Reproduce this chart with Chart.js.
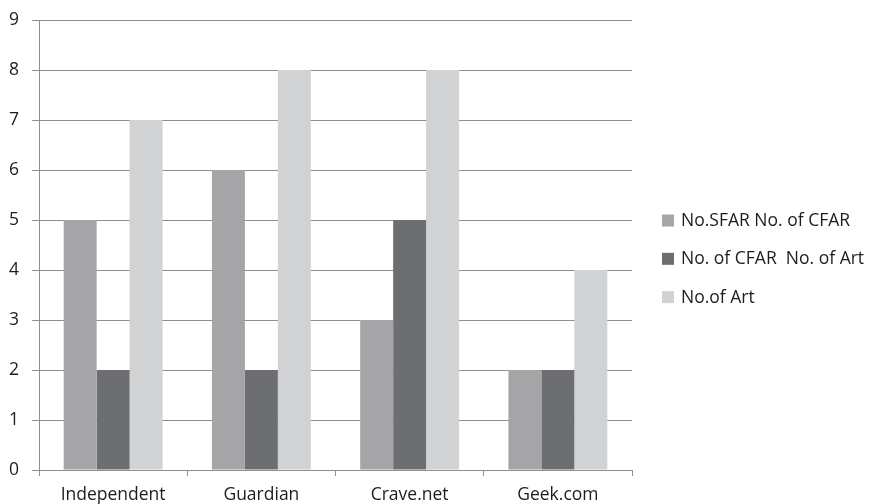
<!DOCTYPE html>
<html>
<head>
<meta charset="utf-8">
<script src="https://cdn.jsdelivr.net/npm/chart.js@4"></script>
<style>
html,body{margin:0;padding:0;background:#fff;}
#wrap{width:875px;height:504px;position:relative;}
</style>
</head>
<body>
<div id="wrap"><canvas id="c" width="875" height="504"></canvas></div>
<script>
const categories = ["Independent", "Guardian", "Crave.net", "Geek.com"];
const seriesNames = ["No.SFAR No. of CFAR", "No. of CFAR  No. of Art", "No.of Art"];
const sfar = [5, 6, 3, 2];
const cfar = [2, 2, 5, 2];
const art = [7, 8, 8, 4];
const yTicks = [0, 1, 2, 3, 4, 5, 6, 7, 8, 9];

const colors = ["#a5a5a7", "#6d6e71", "#d1d2d4"];
const FONT = "'Open Sans', sans-serif";
const FSIZE = 17.5;
const TEXT = '#1d1d1d';

const sideLegend = {
  id: 'sideLegend',
  afterDraw(chart) {
    const ctx = chart.ctx;
    const ca = chart.chartArea;
    const x0 = ca.right + 30;
    const startY = 220.5, step = 38.3;
    ctx.save();
    ctx.font = FSIZE + "px " + FONT;
    ctx.textBaseline = 'middle';
    ctx.textAlign = 'left';
    chart.data.datasets.forEach((ds, i) => {
      const cy = startY + i * step;
      ctx.fillStyle = ds.backgroundColor;
      ctx.fillRect(x0, cy - 6, 12, 12);
      ctx.fillStyle = TEXT;
      ctx.fillText(ds.label, x0 + 19, cy + 0.5);
    });
    ctx.restore();
  }
};

new Chart(document.getElementById('c'), {
  type: 'bar',
  data: {
    labels: categories,
    datasets: [sfar, cfar, art].map((d, i) => ({
      label: seriesNames[i],
      data: d,
      backgroundColor: colors[i],
      borderWidth: 0,
      categoryPercentage: 0.667,
      barPercentage: 1.0
    }))
  },
  options: {
    responsive: false,
    animation: false,
    devicePixelRatio: 1,
    layout: { padding: { top: 20, right: 243, bottom: 0, left: 9 } },
    plugins: {
      legend: { display: false },
      tooltip: { enabled: false }
    },
    scales: {
      x: {
        offset: true,
        afterFit: (s) => { s.height = 34; s.paddingLeft = 0; s.paddingRight = 0; },
        grid: { offset: true, drawOnChartArea: false, color: '#8e8e8e', tickLength: 6 },
        border: { color: '#8e8e8e' },
        ticks: { color: TEXT, font: { family: FONT, size: FSIZE }, padding: 9 }
      },
      y: {
        min: 0, max: 9,
        afterFit: (s) => { s.width = 30; s.paddingTop = 0; s.paddingBottom = 0; },
        afterBuildTicks: (s) => { s.ticks = yTicks.map(v => ({ value: v })); },
        grid: { color: '#8e8e8e', tickLength: 7 },
        border: { color: '#8e8e8e' },
        ticks: { color: TEXT, font: { family: FONT, size: FSIZE }, padding: 13 }
      }
    }
  },
  plugins: [sideLegend]
});
</script>
</body>
</html>
